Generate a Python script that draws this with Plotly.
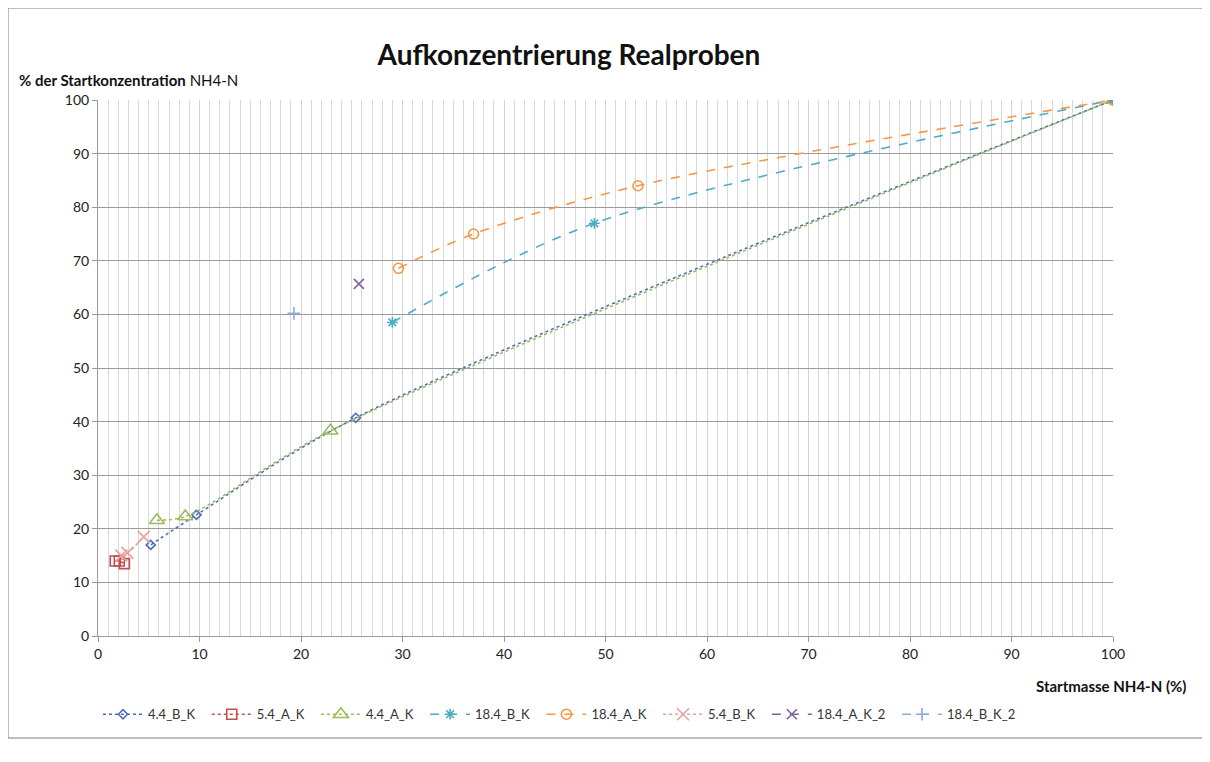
import plotly.graph_objects as go

# ---- data ----
names = ["4.4_B_K", "5.4_A_K", "4.4_A_K", "18.4_B_K", "18.4_A_K", "5.4_B_K", "18.4_A_K_2", "18.4_B_K_2"]

x_44BK = [5.2, 9.7, 25.4, 100]
y_44BK = [17.0, 22.6, 40.7, 100]

x_54AK = [1.7, 2.1, 2.6]
y_54AK = [14.0, 14.0, 13.5]

x_44AK = [5.8, 8.6, 22.9, 100]
y_44AK = [21.6, 22.3, 38.3, 100]

x_184BK = [29.0, 48.9, 100]
y_184BK = [58.5, 77.0, 100]

x_184AK = [29.6, 37.0, 53.2, 100]
y_184AK = [68.6, 75.0, 84.0, 100]

x_54BK = [2.3, 2.9, 4.5]
y_54BK = [15.0, 15.5, 18.5]

x_184AK2 = [25.7]
y_184AK2 = [65.7]

x_184BK2 = [19.3]
y_184BK2 = [60.2]

xs = [x_44BK, x_54AK, x_44AK, x_184BK, x_184AK, x_54BK, x_184AK2, x_184BK2]
ys = [y_44BK, y_54AK, y_44AK, y_184BK, y_184AK, y_54BK, y_184AK2, y_184BK2]

colors = ["#4F6FB8", "#C0504D", "#9BBB59", "#4BACC6", "#F79646", "#E6A0A0", "#8064A2", "#8EA9DB"]
dashes = ["dot", "dot", "dot", "dash", "dash", "dot", "dash", "dash"]
symbols = ["diamond-open", "square-open", "triangle-up-open", "asterisk-open",
           "circle-open", "x-thin-open", "x-thin-open", "cross-thin-open"]
sizes = [7, 10, 13, 9, 10, 12, 10, 9]

PAD = "\u00a0" * 2

fig = go.Figure()
for n, x, y, c, d, s, sz in zip(names, xs, ys, colors, dashes, symbols, sizes):
    fig.add_trace(go.Scatter(
        x=x, y=y, name=n + PAD, mode="lines+markers",
        line=dict(color=c, dash=d, width=1.6, shape="spline", smoothing=0.9),
        marker=dict(symbol=s, size=sz, color=c, line=dict(color=c, width=1.6)),
    ))

font_main = "Lato, Carlito, 'Open Sans', sans-serif"

fig.update_layout(
    width=1210, height=762,
    margin=dict(l=90, r=105, t=92, b=134, autoexpand=False),
    paper_bgcolor="white", plot_bgcolor="white",
    font=dict(family=font_main, size=14, color="#222"),
    title=dict(text="<b>Aufkonzentrierung Realproben</b>", x=0.4636, xanchor="center",
               y=0.938, yanchor="middle", font=dict(size=28, color="#111", family=font_main)),
    showlegend=True,
    legend=dict(orientation="h", x=0.0, xanchor="left", y=-0.146, yanchor="middle",
                font=dict(size=13, color="#333"), itemwidth=40, tracegroupgap=0),
    xaxis=dict(range=[0, 100], dtick=10, tick0=0, showgrid=True, gridcolor="#d4d4d4", gridwidth=1,
               minor=dict(dtick=1, showgrid=True, gridcolor="#d9d9d9", gridwidth=1),
               showline=True, linecolor="#9a9a9a", linewidth=1,
               ticks="outside", ticklen=5, tickcolor="#9a9a9a",
               zeroline=False, tickfont=dict(size=14, color="#222")),
    yaxis=dict(range=[0, 100], dtick=10, tick0=0, showgrid=True, gridcolor="#9a9a9a", gridwidth=1,
               showline=True, linecolor="#9a9a9a", linewidth=1,
               ticks="outside", ticklen=5, tickcolor="#9a9a9a",
               zeroline=False, tickfont=dict(size=14, color="#222")),
    annotations=[
        dict(text="<b>% der Startkonzentration</b> NH4-N", xref="paper", yref="paper",
             x=(17 - 98) / 1015, y=(636 - 80) / 536, xanchor="left", yanchor="middle",
             showarrow=False, font=dict(size=15, color="#111")),
        dict(text="<b>Startmasse NH4-N (%)</b>", xref="paper", yref="paper",
             x=(1188 - 98) / 1015, y=(636 - 686) / 536, xanchor="right", yanchor="middle",
             showarrow=False, font=dict(size=15, color="#111")),
    ],
    shapes=[
        dict(type="rect", xref="paper", yref="paper",
             x0=(8 - 98) / 1015, x1=(1230 - 98) / 1015,
             y0=(636 - 738) / 536, y1=(636 - 8) / 536,
             line=dict(color="#7f7f7f", width=1), fillcolor="rgba(0,0,0,0)", layer="below"),
    ],
)

fig.write_html("out.html")
